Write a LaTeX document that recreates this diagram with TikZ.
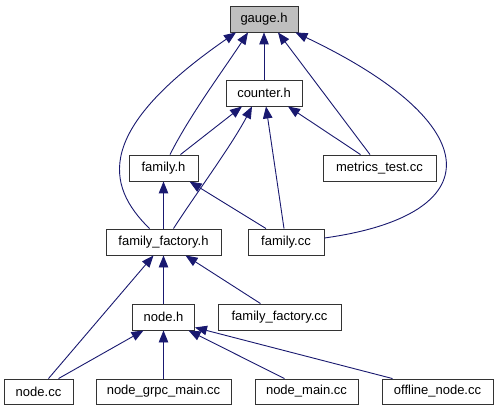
\documentclass[tikz,border=0pt]{standalone}
\usepackage{fontspec}
\setmainfont{Liberation Sans}
\usetikzlibrary{arrows.meta}
\definecolor{edgeblue}{HTML}{191970}
\definecolor{boxgray}{HTML}{BFBFBF}
\begin{document}
\begin{tikzpicture}[x=1pt,y=-1pt,
 box/.style={draw=black!80, line width=0.9pt, fill=white, minimum height=26pt, inner sep=0pt, font=\fontsize{13}{15}\selectfont, anchor=center},
 edge/.style={draw=edgeblue, line width=0.9pt, -{Triangle[length=12pt,width=9.5pt]}}]
\useasboundingbox (0,0) rectangle (497,411);
\fill[white] (0,0) rectangle (497,411);
% nodes
\node[box, fill=boxgray, minimum width=68pt] (gauge) at (264,19) {gauge.h};
\node[box, minimum width=76pt] (counter) at (264,93) {counter.h};
\node[box, minimum width=69pt] (family) at (163.5,168) {family.h};
\node[box, minimum width=113pt] (metrics) at (379.5,168) {metrics\_test.cc};
\node[box, minimum width=115pt] (ff) at (163.5,242) {family\_factory.h};
\node[box, minimum width=76pt] (fcc) at (286,242) {family.cc};
\node[box, minimum width=62pt] (nodeh) at (163.5,317) {node.h};
\node[box, minimum width=123pt] (ffcc) at (279.5,317) {family\_factory.cc};
\node[box, minimum width=69pt, minimum height=25pt] (nodecc) at (38.5,391.5) {node.cc};
\node[box, minimum width=135pt, minimum height=25pt] (grpc) at (163.5,391.5) {node\_grpc\_main.cc};
\node[box, minimum width=103pt, minimum height=25pt] (nodemain) at (306.5,391.5) {node\_main.cc};
\node[box, minimum width=111pt, minimum height=25pt] (offline) at (437.5,391.5) {offline\_node.cc};
% edges to gauge.h
\draw[edge] (counter.north) -- (gauge.south);
\draw[edge] ([xshift=6.5pt]family.north) .. controls (190,115) and (222,72) .. ([xshift=-16pt]gauge.south);
\draw[edge] ([xshift=-14pt]ff.north) .. controls (105,185) and (95,130) .. ([xshift=-28pt]gauge.south);
\draw[edge] ([xshift=-9.5pt]metrics.north) -- ([xshift=14pt]gauge.south);
\draw[edge] ([yshift=4pt]fcc.east) .. controls (490,215) and (490,125) .. ([xshift=-3pt]gauge.south east);
% edges to counter.h
\draw[edge] ([xshift=17pt]family.north) -- ([xshift=-22pt]counter.south);
\draw[edge] ([xshift=10pt]ff.north) .. controls (195,195) and (232,145) .. ([xshift=-12pt]counter.south);
\draw[edge] ([xshift=-2pt]fcc.north) -- ([xshift=2pt]counter.south);
\draw[edge] ([xshift=-19pt]metrics.north) -- ([xshift=24pt]counter.south);
% edges to family.h
\draw[edge] (ff.north) -- (family.south);
\draw[edge] ([xshift=-20pt]fcc.north) -- ([xshift=26pt]family.south);
% edges to family_factory.h
\draw[edge] (nodeh.north) -- (ff.south);
\draw[edge] ([xshift=10pt]nodecc.north) -- ([xshift=-10pt]ff.south);
\draw[edge] ([xshift=-19pt]ffcc.north) -- ([xshift=22pt]ff.south);
% edges to node.h
\draw[edge] ([xshift=20pt]nodecc.north) -- ([xshift=-20pt]nodeh.south);
\draw[edge] (grpc.north) -- (nodeh.south);
\draw[edge] ([xshift=-22pt]nodemain.north) -- ([xshift=25pt]nodeh.south);
\draw[edge] ([xshift=-45pt]offline.north) -- ([yshift=3pt]nodeh.south east);
\end{tikzpicture}
\end{document}
